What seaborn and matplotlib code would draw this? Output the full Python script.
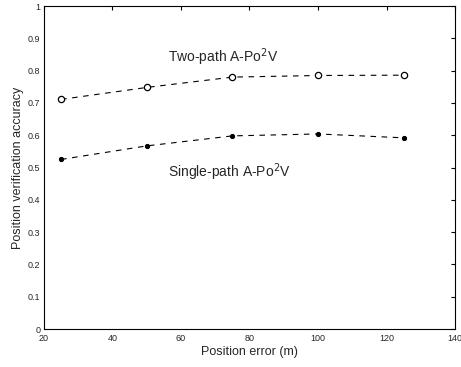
import matplotlib
matplotlib.use("Agg")
import matplotlib.pyplot as plt
import seaborn as sns
import pandas as pd

x_err = [25, 50, 75, 100, 125]
two_path = [0.711, 0.748, 0.780, 0.785, 0.786]
single_path = [0.525, 0.567, 0.598, 0.604, 0.592]
x_ticks = [20, 40, 60, 80, 100, 120, 140]
y_ticks = [0, 0.1, 0.2, 0.3, 0.4, 0.5, 0.6, 0.7, 0.8, 0.9, 1]
y_ticklabels = ["0", "0.1", "0.2", "0.3", "0.4", "0.5", "0.6", "0.7", "0.8", "0.9", "1"]

sns.set_theme(style="white")
plt.rcParams['font.family'] = ['Liberation Sans', 'DejaVu Sans']

df = pd.DataFrame({
    "x": x_err * 2,
    "y": two_path + single_path,
    "series": ["Two-path"] * len(x_err) + ["Single-path"] * len(x_err),
})

fig = plt.figure(figsize=(4.61, 3.67), dpi=100)
ax = fig.add_axes([0.0954, 0.1035, 0.8916, 0.880])

sns.lineplot(data=df[df.series == "Two-path"], x="x", y="y", ax=ax, color="black",
             linewidth=0.8, marker="o", markersize=4.5, dashes=(5, 5),
             markerfacecolor="white", markeredgecolor="black", markeredgewidth=0.9,
             legend=False)
sns.lineplot(data=df[df.series == "Single-path"], x="x", y="y", ax=ax, color="black",
             linewidth=0.8, marker="o", markersize=3, dashes=(5, 5),
             markerfacecolor="black", markeredgecolor="black",
             legend=False)

ax.set_xlim(20, 140)
ax.set_ylim(0, 1)
ax.set_xticks(x_ticks)
ax.set_xticklabels([str(t) for t in x_ticks])
ax.set_yticks(y_ticks)
ax.set_yticklabels(y_ticklabels)
ax.tick_params(direction="in", length=3, width=0.8, labelsize=6.5, top=True, right=True,
               color="black", pad=2)
ax.tick_params(axis="x", pad=3.5)
ax.tick_params(axis="y", pad=2.5)
for s in ax.spines.values():
    s.set_color("black")
    s.set_linewidth(0.8)

ax.set_xlabel("Position error (m)", fontsize=9, labelpad=2)
ax.set_ylabel("Position verification accuracy", fontsize=9, labelpad=3)

ax.text(56.2, 0.842, "Two-path A-Po$^2$V", fontsize=10, va="center", ha="left")
ax.text(56.2, 0.486, "Single-path A-Po$^2$V", fontsize=10, va="center", ha="left")

fig.savefig("out.png", dpi=100)
